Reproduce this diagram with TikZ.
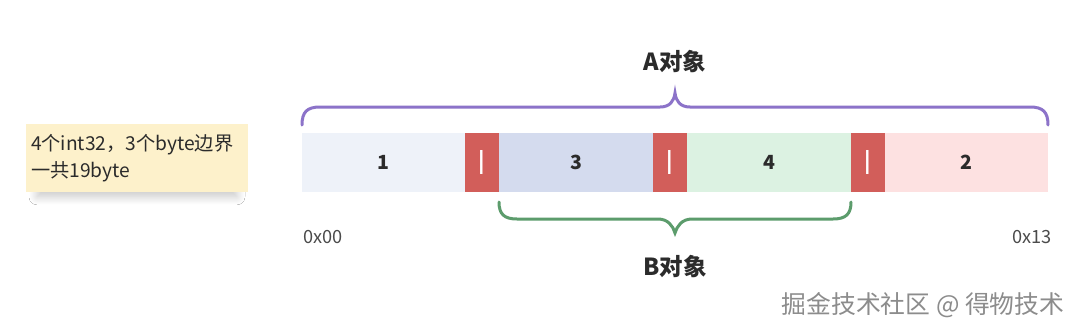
\documentclass[tikz,border=0pt]{standalone}
\usepackage{fontspec}
\setmainfont{Noto Sans CJK SC}
\usetikzlibrary{shadows.blur}

\definecolor{txtgray}{HTML}{2B2B2B}
\definecolor{gapred}{HTML}{D25E5A}
\definecolor{segA}{HTML}{EEF2F9}
\definecolor{segB}{HTML}{D4DBEE}
\definecolor{segC}{HTML}{DCF2E2}
\definecolor{segD}{HTML}{FDE1E1}
\definecolor{notefill}{HTML}{FDF1CB}
\definecolor{bracepurple}{HTML}{8C73C9}
\definecolor{bracegreen}{HTML}{5C9C6C}

\begin{document}
\begin{tikzpicture}[
  x=1pt, y=-1pt,
  cell/.style={inner sep=0pt, outer sep=0pt, minimum height=59pt, text=txtgray, font=\bfseries\fontsize{19.5}{19.5}\selectfont},
  pad/.style={cell, fill=gapred, minimum width=34pt, text=white, font=\bfseries\fontsize{21}{21}\selectfont},
  note/.style={fill=notefill, inner sep=5pt, minimum width=220pt, minimum height=68pt, text width=212pt, align=left, text=txtgray, font=\fontsize{19.2}{27}\selectfont, blur shadow={shadow scale=0.9, shadow yshift=-9pt, shadow xshift=0pt, shadow blur radius=9pt, shadow blur steps=14, shadow opacity=22}},
  title/.style={text=txtgray, font=\bfseries\fontsize{23.5}{23.5}\selectfont},
  addr/.style={text=txtgray!85, font=\fontsize{18.2}{18.2}\selectfont},
  brace/.style={line width=3pt, line cap=round}
]
\fill[white] (0,0) rectangle (1080,333);
\useasboundingbox (0,0) rectangle (1080,333);

\node[note] (info) at (137,158) {4个int32，3个byte边界\\一共19byte};

% memory cells
\node[cell, fill=segA, minimum width=163pt] (one) at (383.5,162.5) {1};
\node[pad] (padA) at (482,162.5) {|};
\node[cell, fill=segB, minimum width=154pt] (three) at (576,162.5) {3};
\node[pad] (padB) at (670,162.5) {|};
\node[cell, fill=segC, minimum width=164pt] (four) at (769,162.5) {4};
\node[pad] (padC) at (868,162.5) {|};
\node[cell, fill=segD, minimum width=163pt] (two) at (966.5,162.5) {2};

\node[addr] (start) at (323,237) {0x00};
\node[addr] (stop) at (1032,237) {0x13};

% braces
\draw[brace, bracepurple] (302,125) .. controls (302,112) and (307,107) .. (320,107) -- (660,107)
  .. controls (670,107) and (674,101) .. (675,93) .. controls (676,101) and (680,107) .. (690,107)
  -- (1030,107) .. controls (1043,107) and (1048,112) .. (1048,125);
\draw[brace, bracegreen] (499,202) .. controls (499,214) and (504,219) .. (517,219) -- (658,219)
  .. controls (668,219) and (673,226) .. (675,233) .. controls (677,226) and (682,219) .. (692,219)
  -- (833,219) .. controls (846,219) and (851,214) .. (851,202);

\node[title] (objA) at (675,62) {A对象};
\node[title] (objB) at (675,267) {B对象};

\node[text=black!45, font=\fontsize{24.8}{24.8}\selectfont] (mark) at (923,305) {掘金技术社区 @ 得物技术};
\end{tikzpicture}
\end{document}
